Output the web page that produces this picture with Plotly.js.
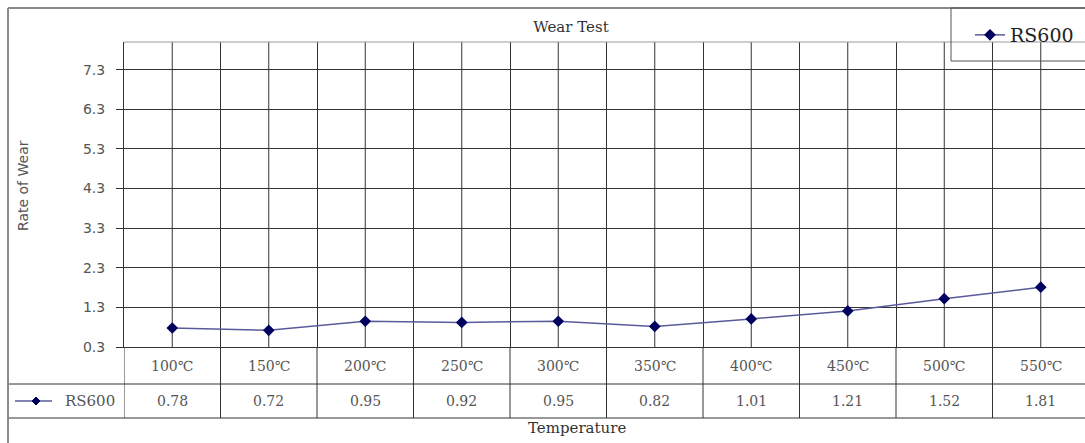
<!DOCTYPE html>
<html>
<head>
<meta charset="utf-8">
<script src="https://cdn.plot.ly/plotly-3.0.1.min.js"></script>
<style>
html,body{margin:0;padding:0;overflow:hidden;background:#fff;}
#chart{width:1090px;height:443px;}
</style>
</head>
<body>
<div id="chart"></div>
<script>
// ---- data ----
const categories = ['100℃','150℃','200℃','250℃','300℃','350℃','400℃','450℃','500℃','550℃'];
const rs600 = [0.78, 0.72, 0.95, 0.92, 0.95, 0.82, 1.01, 1.21, 1.52, 1.81];
const yTickVals = [0.3, 1.3, 2.3, 3.3, 4.3, 5.3, 6.3, 7.3];
const yTickText = ['0.3','1.3','2.3','3.3','4.3','5.3','6.3','7.3'];
const seriesName = 'RS600';
const chartTitle = 'Wear Test';
const xTitle = 'Temperature';
const yTitle = 'Rate of Wear';

// ---- layout geometry ----
const W = 1090, H = 443;
const M = {l:124, r:1, t:42, b:96};
const PW = W - M.l - M.r, PH = H - M.t - M.b;
const px2x = p => (p - M.l) / PW;
const px2y = p => (H - M.b - p) / PH;

const lineColor = '#5a5a9a';
const markerColor = '#00005e';
const gridColor = '#333333';
const serif = 'DejaVu Serif, Liberation Serif, serif';
const sans = 'DejaVu Sans, Liberation Sans, sans-serif';

const trace = {
  type: 'scatter',
  mode: 'lines+markers',
  name: seriesName,
  x: categories,
  y: rs600,
  line: {color: lineColor, width: 1.5},
  marker: {color: markerColor, symbol: 'diamond', size: 9},
  cliponaxis: false
};

const shapes = [];
// center drop lines
categories.forEach(c => {
  shapes.push({type:'line', xref:'x', yref:'paper', x0:c, x1:c, y0:0, y1:1,
    line:{color:gridColor, width:1}, layer:'below'});
});
// boundary lines down through the data table
for (let i = 0; i <= categories.length; i++) {
  shapes.push({type:'line', xref:'x', yref:'paper', x0:i-0.5, x1:i-0.5,
    y0:px2y(418), y1:0, line:{color:gridColor, width:1}});
}
// table horizontal lines
[384, 418].forEach(p => {
  shapes.push({type:'line', xref:'paper', yref:'paper', x0:px2x(8), x1:1.01,
    y0:px2y(p), y1:px2y(p), line:{color:gridColor, width:1}});
});
// plot top border
shapes.push({type:'line', xref:'paper', yref:'paper', x0:0, x1:1, y0:1, y1:1,
  line:{color:'#9a9a9a', width:1}});
// outer chart border
shapes.push({type:'line', xref:'paper', yref:'paper', x0:px2x(8), x1:px2x(8),
  y0:px2y(445), y1:px2y(8), line:{color:'#8a8a8a', width:2}});
shapes.push({type:'line', xref:'paper', yref:'paper', x0:px2x(8), x1:1.01,
  y0:px2y(8), y1:px2y(8), line:{color:'#8a8a8a', width:2}});
// legend box
shapes.push({type:'rect', xref:'paper', yref:'paper', x0:px2x(951), x1:1.02,
  y0:px2y(61), y1:px2y(8), line:{color:'#555', width:1}, fillcolor:'rgba(0,0,0,0)'});
// data-table legend key
shapes.push({type:'line', xref:'paper', yref:'paper', x0:px2x(15), x1:px2x(52),
  y0:px2y(401), y1:px2y(401), line:{color:lineColor, width:1.5}});
(function(){
  const cx = 36, cy = 401, r = 4;
  shapes.push({type:'path', xref:'paper', yref:'paper',
    path:`M ${px2x(cx-r)} ${px2y(cy)} L ${px2x(cx)} ${px2y(cy-r)} L ${px2x(cx+r)} ${px2y(cy)} L ${px2x(cx)} ${px2y(cy+r)} Z`,
    fillcolor:markerColor, line:{color:markerColor, width:1}});
})();

const annotations = [];
categories.forEach((c, i) => {
  annotations.push({xref:'x', yref:'paper', x:c, y:px2y(366), text:c, showarrow:false,
    xanchor:'center', yanchor:'middle', font:{family:serif, size:14, color:'#555'}});
  annotations.push({xref:'x', yref:'paper', x:c, y:px2y(401), text:rs600[i].toFixed(2), showarrow:false,
    xanchor:'center', yanchor:'middle', font:{family:serif, size:14, color:'#555'}});
});
annotations.push({xref:'paper', yref:'paper', x:px2x(90), y:px2y(401), text:seriesName,
  xanchor:'center', yanchor:'middle', showarrow:false, font:{family:serif, size:15, color:'#555'}});
annotations.push({xref:'paper', yref:'paper', x:px2x(577), y:px2y(428), text:xTitle,
  xanchor:'center', yanchor:'middle', showarrow:false, font:{family:serif, size:15, color:'#333'}});
annotations.push({xref:'paper', yref:'paper', x:px2x(23), y:px2y(186), text:yTitle,
  xanchor:'center', yanchor:'middle', textangle:-90, showarrow:false,
  font:{family:sans, size:14, color:'#555'}});

const layout = {
  width: W, height: H,
  margin: M,
  paper_bgcolor: '#fff', plot_bgcolor: '#fff',
  showlegend: true,
  title: {text: chartTitle, x: 571/W, xref:'container', y: 1 - 27/H, yref:'container',
    xanchor:'center', yanchor:'middle', font:{family:serif, size:15, color:'#333'}},
  legend: {x: px2x(970), xanchor:'left', y: px2y(35), yanchor:'middle',
    bgcolor:'rgba(0,0,0,0)', borderwidth:0, font:{family:serif, size:19, color:'#222'}},
  xaxis: {type:'category', range:[-0.5, categories.length - 0.5], tickson:'boundaries',
    showgrid:true, gridcolor:gridColor, gridwidth:1, ticks:'', showticklabels:false,
    showline:true, linecolor:gridColor, linewidth:1, zeroline:false, fixedrange:true},
  yaxis: {range:[0.3, 8.0], tickvals:yTickVals, ticktext:yTickText,
    showgrid:true, gridcolor:gridColor, gridwidth:1, ticks:'outside', ticklen:7,
    tickcolor:gridColor, ticklabelstandoff:8, showline:true, linecolor:gridColor, linewidth:1,
    zeroline:false, tickfont:{family:sans, size:14, color:'#555'}, fixedrange:true},
  shapes: shapes,
  annotations: annotations
};

Plotly.newPlot('chart', [trace], layout, {displayModeBar:false, staticPlot:true});
</script>
</body>
</html>
